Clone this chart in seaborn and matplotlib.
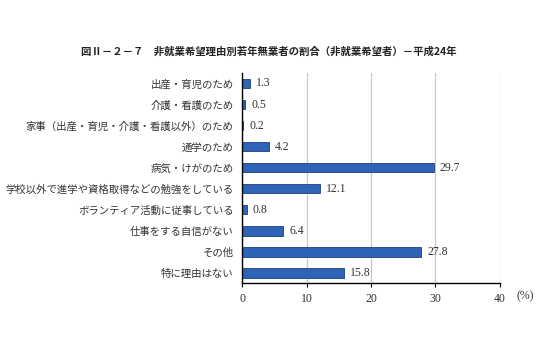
import matplotlib
matplotlib.use("Agg")
import matplotlib.pyplot as plt
import seaborn as sns
import pandas as pd

title = "図Ⅱ－２－７　非就業希望理由別若年無業者の割合（非就業希望者）－平成24年"
reasons = [
    "出産・育児のため",
    "介護・看護のため",
    "家事（出産・育児・介護・看護以外）のため",
    "通学のため",
    "病気・けがのため",
    "学校以外で進学や資格取得などの勉強をしている",
    "ボランティア活動に従事している",
    "仕事をする自信がない",
    "その他",
    "特に理由はない",
]
shares = [1.3, 0.5, 0.2, 4.2, 29.7, 12.1, 0.8, 6.4, 27.8, 15.8]
x_ticks = [0, 10, 20, 30, 40]

df = pd.DataFrame({"reason": reasons, "share": shares})

sns.set_theme(style="white")
plt.rcParams["font.family"] = ["Noto Sans CJK JP", "DejaVu Sans"]
num_font = ["Liberation Serif", "DejaVu Serif"]

fig = plt.figure(figsize=(5.43, 3.49), dpi=100)
ax = fig.add_axes([0.4457, 0.188, 0.4751, 0.603])

sns.barplot(data=df, y="reason", x="share", orient="h", color="#2f63b6",
            width=0.45, edgecolor="#1d3f7a", linewidth=0.6, ax=ax, saturation=1)

for i, v in enumerate(shares):
    ax.text(v + 0.9, i, f"{v:.1f}", va="center", ha="left", fontsize=8.5,
            color="#333333", family=num_font)

ax.set_xlim(0, 40)
ax.set_ylim(9.5, -0.5)
ax.set_xticks(x_ticks)
ax.set_xticklabels([str(t) for t in x_ticks], fontsize=8.5, color="#333333",
                   family=num_font)
ax.tick_params(axis="x", length=3, width=0.8, color="black", direction="out",
               bottom=True, pad=4)
ax.tick_params(axis="y", length=0, labelsize=7.5, labelcolor="#333333", pad=6)
ax.set_xlabel("")
ax.set_ylabel("")
ax.xaxis.grid(True, color="#c8c8c8", linewidth=0.9)
ax.set_axisbelow(True)
for s in ("top", "right"):
    ax.spines[s].set_visible(False)
for s in ("left", "bottom"):
    ax.spines[s].set_color("black")
    ax.spines[s].set_linewidth(1.0)

fig.text(0.967, 0.152, "(%)", fontsize=8.5, color="#333333", ha="center",
         va="center", family=num_font)
fig.text(0.495, 0.851, title, fontsize=7.5, fontweight="bold", color="#222222",
         ha="center", va="center")

fig.savefig("out.png", dpi=100, facecolor="white")
